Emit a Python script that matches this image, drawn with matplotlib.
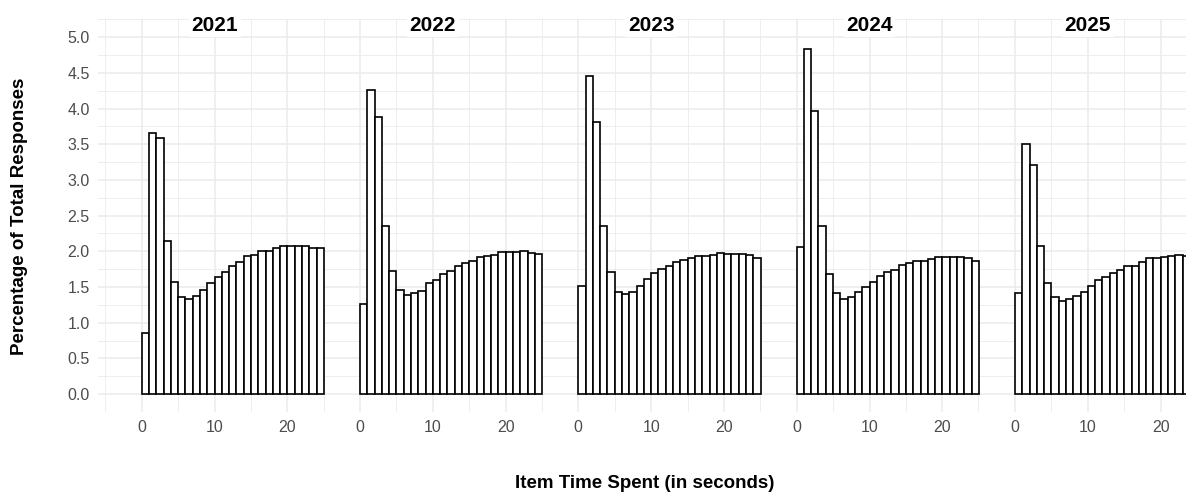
import numpy as np
import matplotlib
matplotlib.use("Agg")
import matplotlib.pyplot as plt
from matplotlib.ticker import MultipleLocator, FixedLocator

plt.rcParams['font.family'] = ['Liberation Sans', 'DejaVu Sans']

# left edges of the 1-second bins
bins = list(range(25))

years = ["2021", "2022", "2023", "2024", "2025"]

pct_2021 = [0.86, 3.66, 3.59, 2.15, 1.57, 1.36, 1.33, 1.37, 1.46, 1.56, 1.64, 1.71, 1.79,
            1.85, 1.93, 1.95, 2.00, 2.01, 2.04, 2.08, 2.07, 2.08, 2.08, 2.05, 2.04]
pct_2022 = [1.26, 4.26, 3.88, 2.36, 1.72, 1.46, 1.39, 1.41, 1.44, 1.55, 1.60, 1.68, 1.72,
            1.79, 1.84, 1.87, 1.92, 1.93, 1.95, 1.99, 1.99, 1.99, 2.00, 1.97, 1.96]
pct_2023 = [1.51, 4.45, 3.81, 2.36, 1.71, 1.43, 1.40, 1.43, 1.51, 1.61, 1.69, 1.75, 1.80,
            1.85, 1.88, 1.91, 1.94, 1.94, 1.95, 1.98, 1.96, 1.96, 1.96, 1.95, 1.90]
pct_2024 = [2.06, 4.83, 3.97, 2.36, 1.68, 1.42, 1.33, 1.36, 1.43, 1.50, 1.57, 1.65, 1.71,
            1.74, 1.81, 1.84, 1.86, 1.87, 1.89, 1.92, 1.92, 1.92, 1.92, 1.91, 1.87]
pct_2025 = [1.42, 3.50, 3.21, 2.07, 1.55, 1.36, 1.31, 1.33, 1.37, 1.43, 1.51, 1.60, 1.64,
            1.69, 1.74, 1.80, 1.80, 1.85, 1.90, 1.90, 1.92, 1.93, 1.95, 1.93, 1.92]

series = [pct_2021, pct_2022, pct_2023, pct_2024, pct_2025]

W, H = 1186, 493
fig = plt.figure(figsize=(W / 100, H / 100), dpi=100)

grid_col = '#EBEBEB'
text_col = '#4D4D4D'
px_per_unit = 7.289
x_left, x_right = -6.0, 23.95
panel_w = (x_right - x_left) * px_per_unit
top_px, bot_px = 19.3, 412.0

for i, (year, vals) in enumerate(zip(years, series)):
    left_px = 141.7 - 6.0 * px_per_unit + i * panel_w
    ax = fig.add_axes([left_px / W, (H - bot_px) / H, panel_w / W, (bot_px - top_px) / H])
    ax.set_zorder(10 - i)
    ax.set_facecolor('none')
    ax.set_xlim(x_left, x_right)
    ax.set_ylim(-0.25, 5.25)

    ax.xaxis.set_major_locator(FixedLocator([0, 10, 20]))
    ax.xaxis.set_minor_locator(FixedLocator([-5, 5, 15, 25]))
    ax.yaxis.set_major_locator(MultipleLocator(0.5))
    ax.yaxis.set_minor_locator(FixedLocator(np.arange(-0.25, 5.3, 0.5)))
    ax.grid(True, which='major', color=grid_col, lw=1.1)
    ax.grid(True, which='minor', color=grid_col, lw=0.6)
    ax.set_axisbelow(True)
    for s in ax.spines.values():
        s.set_visible(False)
    ax.tick_params(which='both', length=0, colors=text_col, labelsize=11.5)
    ax.tick_params(axis='x', pad=6)
    ax.tick_params(axis='y', pad=6)
    if i == 0:
        ax.set_yticklabels([f"{v:.1f}" for v in ax.get_yticks()])
    else:
        ax.tick_params(axis='y', labelleft=False)

    ax.bar(bins, vals, width=1, align='edge', facecolor='white', edgecolor='black',
           linewidth=1.2, clip_on=False, zorder=3)

    ax.text(10, 5.17, year, ha='center', va='center', fontsize=15, fontweight='bold',
            bbox=dict(facecolor='white', edgecolor='none', pad=2), zorder=5)

fig.text(20 / W, (H - 216) / H, "Percentage of Total Responses", rotation=90,
         ha='center', va='center', fontsize=13.5, fontweight='bold')
fig.text(645 / W, 9 / H, "Item Time Spent (in seconds)", ha='center', va='center',
         fontsize=13.5, fontweight='bold')

fig.savefig("out.png", dpi=100)
